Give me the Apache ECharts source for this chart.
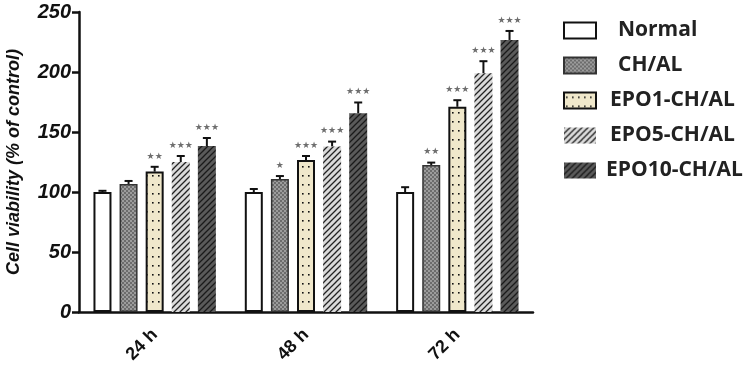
<!DOCTYPE html>
<html>
<head>
<meta charset="utf-8">
<script src="https://cdn.jsdelivr.net/npm/echarts@6/dist/echarts.min.js"></script>
<style>
  html, body { margin: 0; padding: 0; background: #fff; }
  #chart { width: 749px; height: 376px; }
</style>
</head>
<body>
<div id="chart"></div>
<script>
// data
const categories = ['24 h', '48 h', '72 h'];
const groupNames = ['Normal', 'CH/AL', 'EPO1-CH/AL', 'EPO5-CH/AL', 'EPO10-CH/AL'];

const normalMean = [100, 100, 100];
const normalErr = [1, 2.5, 4];
const chalMean = [106.7, 110.8, 122.5];
const chalErr = [2.5, 2.5, 2];
const epo1Mean = [117, 126.7, 171];
const epo1Err = [4, 3.3, 5.5];
const epo5Mean = [125, 138, 199];
const epo5Err = [5, 4, 10];
const epo10Mean = [138.3, 165.6, 226.7];
const epo10Err = [6.7, 9, 7.5];

const normalSig = ['', '', ''];
const chalSig = ['', '*', '**'];
const epo1Sig = ['**', '***', '***'];
const epo5Sig = ['***', '***', '***'];
const epo10Sig = ['***', '***', '***'];

const yTicks = [0, 50, 100, 150, 200, 250];

const means = [normalMean, chalMean, epo1Mean, epo5Mean, epo10Mean];
const errs = [normalErr, chalErr, epo1Err, epo5Err, epo10Err];
const sigs = [normalSig, chalSig, epo1Sig, epo5Sig, epo10Sig];

// fill patterns
function makePattern(w, h, draw) {
  const c = document.createElement('canvas');
  c.width = w;
  c.height = h;
  draw(c.getContext('2d'));
  return { image: c, repeat: 'repeat' };
}

const checker = makePattern(4, 4, (ctx) => {
  ctx.fillStyle = '#9c9c9c';
  ctx.fillRect(0, 0, 4, 4);
  ctx.fillStyle = '#6c6c6c';
  ctx.fillRect(0, 0, 2, 2);
  ctx.fillRect(2, 2, 2, 2);
});

const dots = makePattern(6, 9, (ctx) => {
  ctx.fillStyle = '#f0e8cb';
  ctx.fillRect(0, 0, 6, 9);
  ctx.fillStyle = '#111';
  ctx.fillRect(2, 4, 1.6, 1.6);
});

function hatch(bg, line) {
  return makePattern(6, 6, (ctx) => {
    ctx.fillStyle = bg;
    ctx.fillRect(0, 0, 6, 6);
    ctx.strokeStyle = line;
    ctx.lineWidth = 1.3;
    ctx.beginPath();
    ctx.moveTo(-1, 7); ctx.lineTo(7, -1);
    ctx.moveTo(-1, 1); ctx.lineTo(1, -1);
    ctx.moveTo(5, 7); ctx.lineTo(7, 5);
    ctx.stroke();
  });
}

const fills = [
  { color: '#ffffff', borderColor: '#111', borderWidth: 2 },
  { color: checker, borderColor: '#333', borderWidth: 1.5 },
  { color: dots, borderColor: '#111', borderWidth: 2 },
  { color: hatch('#dadada', '#222'), borderWidth: 0 },
  { color: hatch('#5a5a5a', '#1a1a1a'), borderWidth: 0 }
];

// gap between legend swatch and its text, per entry
const legendTextPad = [17, 17, 9, 9, 5];

const BAR_W = 18;
const BAR_GAP = '45%';

const barSeries = groupNames.map((name, i) => ({
  name: name,
  type: 'bar',
  barWidth: BAR_W,
  barGap: BAR_GAP,
  itemStyle: fills[i],
  data: means[i],
  z: 2
}));

const errSeries = groupNames.map((name, i) => ({
  type: 'custom',
  name: name + ' err',
  z: 3,
  data: categories.map((c, k) => [k, means[i][k], errs[i][k]]),
  renderItem: (params, api) => {
    const k = api.value(0);
    const layout = api.barLayout({ barWidth: BAR_W, barGap: BAR_GAP, count: groupNames.length });
    const base = api.coord([k, api.value(1)]);
    const top = api.coord([k, api.value(1) + api.value(2)]);
    const x = base[0] + layout[i].offsetCenter;
    const half = 4;
    const lineStyle = { stroke: '#111', lineWidth: 2 };
    return {
      type: 'group',
      children: [
        { type: 'line', shape: { x1: x, y1: base[1], x2: x, y2: top[1] }, style: lineStyle },
        { type: 'line', shape: { x1: x - half, y1: top[1], x2: x + half, y2: top[1] }, style: lineStyle },
        {
          type: 'text',
          style: {
            text: sigs[i][k].replace(/\*/g, '★'),
            x: x,
            y: top[1] - 6,
            align: 'center',
            verticalAlign: 'bottom',
            fill: '#6e6e6e',
            font: '9px "DejaVu Sans"'
          }
        }
      ]
    };
  }
}));

const chart = echarts.init(document.getElementById('chart'));

chart.setOption({
  animation: false,
  backgroundColor: '#fff',
  grid: { left: 79, right: 216, top: 12, bottom: 64, outerBoundsMode: 'none' },
  legend: {
    data: groupNames.map((n, i) => ({ name: n, textStyle: { padding: [0, 0, 0, legendTextPad[i]] } })),
    orient: 'vertical',
    left: 563,
    top: 20,
    padding: 0,
    itemGap: 14,
    itemWidth: 32,
    itemHeight: 16,
    icon: 'rect',
    textStyle: {
      fontFamily: 'Open Sans',
      fontWeight: 'bold',
      fontSize: 21,
      color: '#222'
    }
  },
  xAxis: {
    type: 'category',
    data: categories,
    axisLine: { lineStyle: { color: '#111', width: 2.5 } },
    axisTick: { alignWithLabel: true, length: 7, lineStyle: { color: '#111', width: 2.5 } },
    axisLabel: {
      rotate: 45,
      margin: 20,
      fontFamily: 'Liberation Sans',
      fontWeight: 'bold',
      fontSize: 18,
      color: '#111'
    }
  },
  yAxis: {
    type: 'value',
    min: yTicks[0],
    max: yTicks[yTicks.length - 1],
    interval: 50,
    name: 'Cell viability (% of control)',
    nameLocation: 'middle',
    nameGap: 56,
    nameTextStyle: {
      fontFamily: 'Liberation Sans',
      fontStyle: 'italic',
      fontWeight: 'bold',
      fontSize: 18,
      color: '#111'
    },
    axisLine: { show: true, lineStyle: { color: '#111', width: 2.5 } },
    axisTick: { show: true, length: 7, lineStyle: { color: '#111', width: 2.5 } },
    splitLine: { show: false },
    axisLabel: {
      margin: 8,
      fontFamily: 'Liberation Sans',
      fontStyle: 'italic',
      fontWeight: 'bold',
      fontSize: 20,
      color: '#111'
    }
  },
  series: barSeries.concat(errSeries)
});
</script>
</body>
</html>
